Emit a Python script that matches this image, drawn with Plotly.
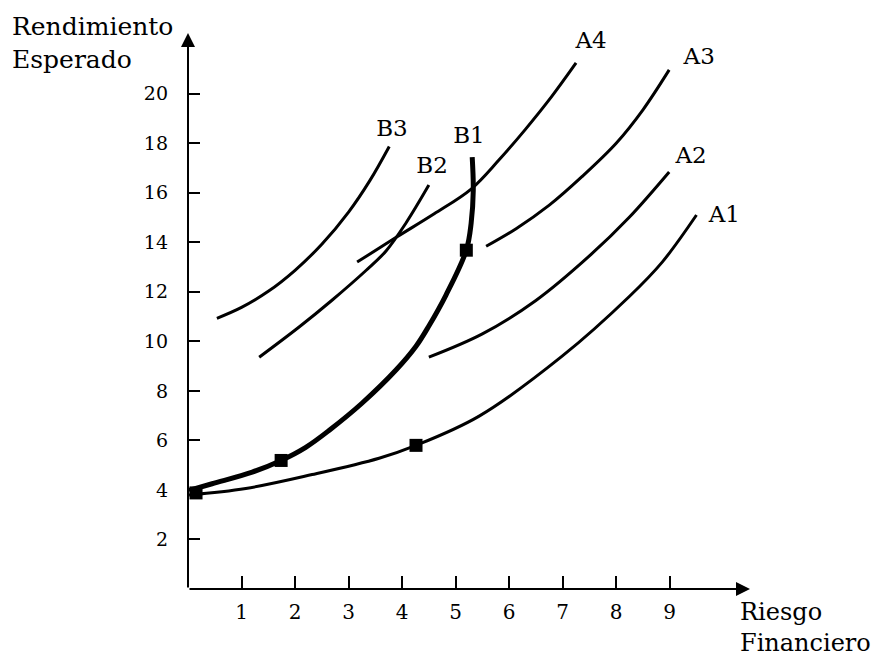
import plotly.graph_objects as go

# ---- data ----
a1_x = [0.02, 1.08, 2.32, 3.57, 4.26, 5.44, 6.99, 8.24, 8.86, 9.50]
a1_y = [3.80, 4.06, 4.62, 5.28, 5.80, 6.98, 9.40, 11.80, 13.20, 15.10]

a2_x = [4.50, 5.50, 6.50, 7.50, 8.24, 8.99]
a2_y = [9.36, 10.30, 11.65, 13.45, 15.00, 16.84]

a3_x = [5.57, 6.13, 6.75, 7.36, 8.00, 8.50, 8.99]
a3_y = [13.84, 14.55, 15.50, 16.65, 18.00, 19.35, 20.96]

a4_x = [3.16, 3.89, 4.60, 5.29, 5.80, 6.30, 6.80, 7.25]
a4_y = [13.20, 14.20, 15.15, 16.15, 17.30, 18.55, 19.90, 21.24]

b1_x = [0.02, 0.45, 1.20, 1.74, 2.20, 2.64, 3.25, 3.89, 4.26, 4.50, 4.82, 5.20, 5.29, 5.33, 5.31]
b1_y = [3.98, 4.25, 4.72, 5.19, 5.72, 6.41, 7.50, 8.85, 9.80, 10.62, 11.87, 13.68, 14.77, 16.10, 17.44]

b2_x = [1.33, 2.07, 2.69, 3.33, 3.70, 4.07, 4.50]
b2_y = [9.36, 10.57, 11.66, 12.87, 13.65, 14.77, 16.31]

b3_x = [0.54, 1.00, 1.50, 2.00, 2.50, 3.00, 3.40, 3.76]
b3_y = [10.93, 11.37, 12.02, 12.87, 13.92, 15.22, 16.50, 17.87]

point_x = [0.15, 1.74, 5.20, 4.26]
point_y = [3.88, 5.19, 13.68, 5.80]

curve_names = ["A4", "A3", "A2", "A1", "B3", "B2", "B1"]
label_x = [7.53, 9.55, 9.40, 10.02, 3.81, 4.56, 5.25]
label_y = [22.09, 21.44, 17.44, 15.06, 18.53, 17.04, 18.25]

x_ticks = [1, 2, 3, 4, 5, 6, 7, 8, 9]
y_ticks = [2, 4, 6, 8, 10, 12, 14, 16, 18, 20]

x_end = 10.5
y_end = 22.45

FONT = "DejaVu Serif"

fig = go.Figure()

thin = [(a1_x, a1_y), (a2_x, a2_y), (a3_x, a3_y), (a4_x, a4_y),
        (b2_x, b2_y), (b3_x, b3_y)]
for xs, ys in thin:
    fig.add_trace(go.Scatter(x=xs, y=ys, mode="lines",
                             line=dict(color="black", width=3, shape="spline", smoothing=1.0),
                             cliponaxis=False, hoverinfo="skip"))

fig.add_trace(go.Scatter(x=b1_x, y=b1_y, mode="lines",
                         line=dict(color="black", width=5, shape="spline", smoothing=1.0),
                         cliponaxis=False, hoverinfo="skip"))

fig.add_trace(go.Scatter(x=point_x, y=point_y, mode="markers",
                         marker=dict(symbol="square", size=13, color="black"),
                         cliponaxis=False, hoverinfo="skip"))

fig.add_trace(go.Scatter(x=label_x, y=label_y, mode="text", text=curve_names,
                         textfont=dict(family=FONT, size=23, color="black"),
                         textposition="middle center",
                         cliponaxis=False, hoverinfo="skip"))

# axes with arrowheads
fig.add_annotation(x=x_end, y=0, ax=0, ay=0, xref="x", yref="y", axref="x", ayref="y",
                   showarrow=True, arrowhead=2, arrowsize=1.4, arrowwidth=2,
                   arrowcolor="black", text="")
fig.add_annotation(x=0, y=y_end, ax=0, ay=0, xref="x", yref="y", axref="x", ayref="y",
                   showarrow=True, arrowhead=2, arrowsize=1.4, arrowwidth=2,
                   arrowcolor="black", text="")

fig.add_annotation(x=-0.3167, y=1.041, xref="paper", yref="paper",
                   xanchor="left", yanchor="top", align="left", showarrow=False,
                   text="Rendimiento<br>Esperado",
                   font=dict(family=FONT, size=25, color="black"))
fig.add_annotation(x=0.979, y=-0.012, xref="paper", yref="paper",
                   xanchor="left", yanchor="top", align="left", showarrow=False,
                   text="Riesgo<br>Financiero",
                   font=dict(family=FONT, size=24, color="black"))

fig.update_layout(
    width=873, height=651,
    margin=dict(l=180, r=131, t=25, b=70),
    paper_bgcolor="white", plot_bgcolor="white",
    showlegend=False,
    xaxis=dict(range=[0, x_end], tickvals=x_ticks, ticktext=[str(v) for v in x_ticks],
               ticks="inside", ticklen=13, tickwidth=1.5, tickcolor="black",
               showgrid=False, zeroline=False, showline=False,
               ticklabelstandoff=9,
               tickfont=dict(family=FONT, size=20, color="black")),
    yaxis=dict(range=[0, y_end], tickvals=y_ticks, ticktext=[str(v) for v in y_ticks],
               ticks="inside", ticklen=12, tickwidth=1.5, tickcolor="black",
               showgrid=False, zeroline=False, showline=False,
               ticklabelstandoff=19,
               tickfont=dict(family=FONT, size=19, color="black")),
)

fig.write_html("out.html")
